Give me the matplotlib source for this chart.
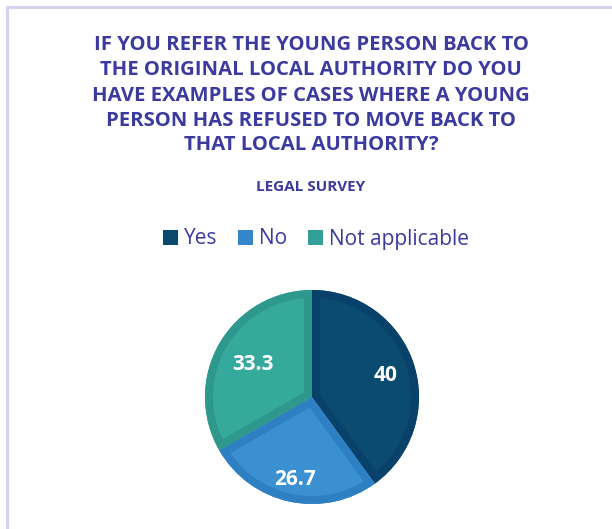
import matplotlib
matplotlib.use("Agg")
import matplotlib.pyplot as plt
from matplotlib.patches import Patch, Wedge
from matplotlib.lines import Line2D
import numpy as np

# Survey answers (percent of respondents)
categories = ["Yes", "No", "Not applicable"]
values = [40, 26.7, 33.3]
value_labels = ["40", "26.7", "33.3"]

title_lines = [
    "IF YOU REFER THE YOUNG PERSON BACK TO",
    "THE ORIGINAL LOCAL AUTHORITY DO YOU",
    "HAVE EXAMPLES OF CASES WHERE A YOUNG",
    "PERSON HAS REFUSED TO MOVE BACK TO",
    "THAT LOCAL AUTHORITY?",
]
subtitle = "LEGAL SURVEY"

fill_colors = ["#0c4b70", "#3a90d1", "#36a99d"]
edge_colors = ["#08426a", "#2f80c2", "#2e988c"]
legend_colors = ["#0b4a6e", "#3585c9", "#32a096"]
label_radius = [0.72, 0.77, 0.64]

W, H = 612, 529
fig = plt.figure(figsize=(W / 100, H / 100), dpi=100)
fig.patch.set_facecolor("white")

text_color = "#3b3a9e"
font = "Open Sans"


def fx(px):
    return px / W


def fy(py):
    return 1 - py / H


# light frame around the chart area
fig.add_artist(Line2D([fx(7), fx(7), fx(W)], [fy(H), fy(7), fy(7)],
                      color="#d5d2f1", lw=2.2, transform=fig.transFigure))

# title block
line_y = [45, 70, 96, 121, 145]
for txt, y in zip(title_lines, line_y):
    fig.text(fx(311), fy(y), txt, ha="center", va="center",
             fontsize=14.6, fontweight="bold", color=text_color, family=font)
fig.text(fx(311), fy(187), subtitle, ha="center", va="center",
         fontsize=11, fontweight="bold", color=text_color, family=font)

# pie
cx, cy, r = 312, 397, 107
ax = fig.add_axes([fx(cx - r), fy(cy + r), 2 * r / W, 2 * r / H])
wedges, _ = ax.pie(values, startangle=90, counterclock=False,
                   colors=fill_colors, radius=1,
                   wedgeprops=dict(linewidth=0))
ax.set_xlim(-1.0, 1.0)
ax.set_ylim(-1.0, 1.0)
ax.set_aspect("equal")
ax.axis("off")

# darker inner rim on every slice: a stroked copy clipped to the slice
for w, ec in zip(wedges, edge_colors):
    rim = Wedge(w.center, w.r, w.theta1, w.theta2, facecolor="none",
                edgecolor=ec, linewidth=11.5, joinstyle="miter")
    ax.add_patch(rim)
    rim.set_clip_path(w.get_path(), w.get_transform())

for w, lab, rr in zip(wedges, value_labels, label_radius):
    ang = np.deg2rad((w.theta1 + w.theta2) / 2)
    ax.text(rr * np.cos(ang), rr * np.sin(ang) - 0.02, lab,
            ha="center", va="center",
            fontsize=15, fontweight="bold", color="white", family=font)

# legend
handles = [Patch(facecolor=c, edgecolor="none") for c in legend_colors]
leg = fig.legend(handles, categories, loc="center", ncol=3,
                 bbox_to_anchor=(fx(316), fy(239)), frameon=False,
                 prop=dict(family=font, size=15),
                 handlelength=0.7, handleheight=0.7, handletextpad=0.3,
                 columnspacing=1.0)
for t in leg.get_texts():
    t.set_color(text_color)

fig.savefig("out.png", dpi=100, facecolor="white")
